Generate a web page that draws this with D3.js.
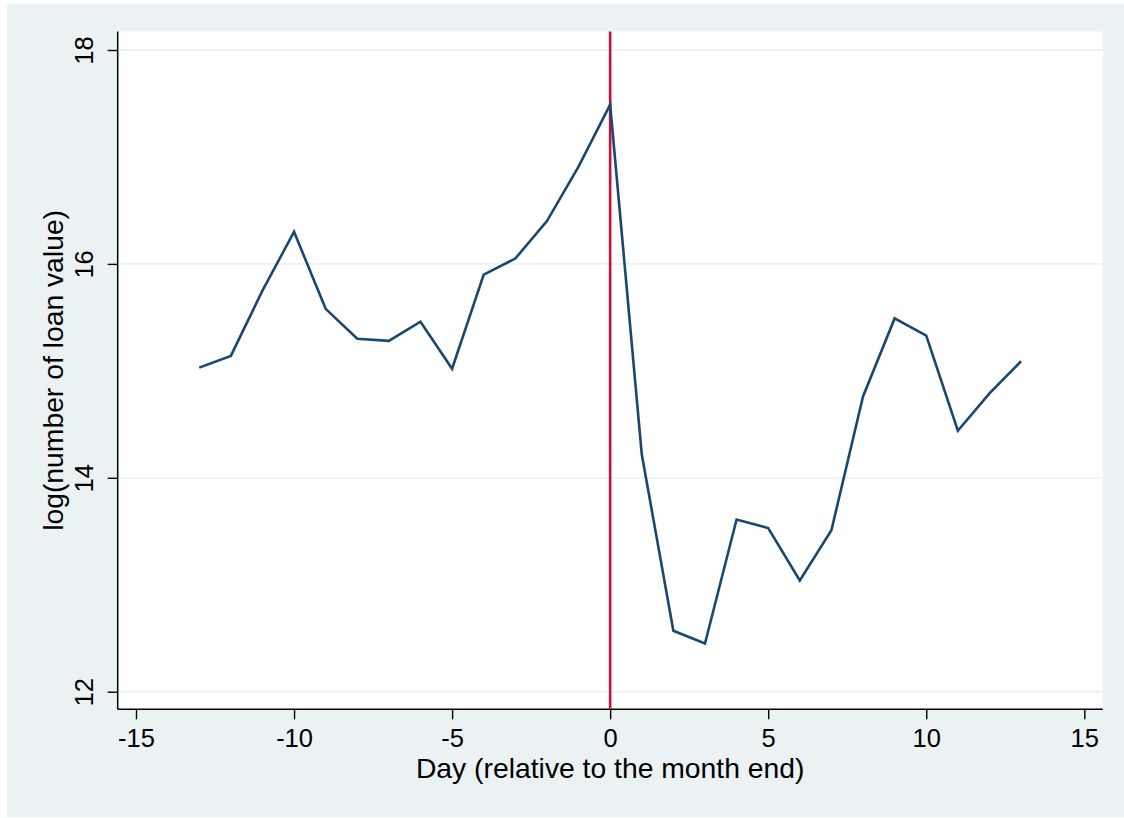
<!DOCTYPE html>
<html>
<head>
<meta charset="utf-8">
<script src="https://cdn.jsdelivr.net/npm/d3@7"></script>
<style>
    body { margin: 0; background: #fff; }
    svg { display: block; font-family: 'Liberation Sans', Arial, sans-serif; }
</style>
</head>
<body>
<svg width="1124" height="818"></svg>
<script>
// data
var days = [-13, -12, -11, -10, -9, -8, -7, -6, -5, -4, -3, -2, -1, 0,
    1, 2, 3, 4, 5, 6, 7, 8, 9, 10, 11, 12, 13];
var logValue = [15.03, 15.14, 15.75, 16.30, 15.58, 15.30, 15.28, 15.46, 15.02, 15.90, 16.05, 16.40, 16.91, 17.49,
    14.22, 12.57, 12.45, 13.61, 13.53, 13.04, 13.51, 14.76, 15.49, 15.33, 14.44, 14.79, 15.09];
var xTicks = [-15, -10, -5, 0, 5, 10, 15];
var yTicks = [12, 14, 16, 18];
var markerDay = 0;

var svg = d3.select('svg');

var svgWidth = +svg.attr('width');
var svgHeight = +svg.attr('height');

// plot region edges
var region = {l: 117.7, r: 1102.7, t: 31.5, b: 709.3};

// plain labels with ascii hyphen, no decimals
var plainFormat = function(d) { return String(d); };

// outer (graph) background
svg.append('rect')
    .attr('x', 7)
    .attr('y', 4)
    .attr('width', svgWidth - 7)
    .attr('height', svgHeight - 5)
    .attr('fill', '#eaf2f3');

// plot region
svg.append('rect')
    .attr('x', region.l)
    .attr('y', region.t)
    .attr('width', region.r - region.l)
    .attr('height', region.b - region.t)
    .attr('fill', '#ffffff');

// scales
var xScale = d3.scaleLinear()
    .domain([-15, 15])
    .range([136, 1084.3]);
var yScale = d3.scaleLinear()
    .domain([12, 18])
    .range([691.7, 50]);

// horizontal grid lines
svg.append('g')
    .attr('class', 'grid')
    .selectAll('line')
    .data(yTicks)
    .enter()
    .append('line')
    .attr('x1', region.l)
    .attr('x2', region.r)
    .attr('y1', function(d) { return yScale(d); })
    .attr('y2', function(d) { return yScale(d); })
    .attr('stroke', '#eaf2f3')
    .attr('stroke-width', 1.8);

// x axis
var xAxisG = svg.append('g')
    .attr('class', 'x axis')
    .attr('transform', 'translate(' + [0, region.b] + ')')
    .call(d3.axisBottom(xScale).tickValues(xTicks).tickFormat(plainFormat)
        .tickSize(10).tickSizeOuter(0));

xAxisG.select('.domain').remove();
xAxisG.selectAll('line').attr('stroke', '#000').attr('stroke-width', 1.4);
xAxisG.selectAll('text')
    .attr('y', 38)
    .attr('dy', 0)
    .attr('fill', '#000')
    .style('font-size', '25.5px');

// y axis
var yAxisG = svg.append('g')
    .attr('class', 'y axis')
    .attr('transform', 'translate(' + [region.l, 0] + ')')
    .call(d3.axisLeft(yScale).tickValues(yTicks).tickFormat(plainFormat)
        .tickSize(10).tickSizeOuter(0));

yAxisG.select('.domain').remove();
yAxisG.selectAll('line').attr('stroke', '#000').attr('stroke-width', 1.4);
yAxisG.selectAll('text')
    .attr('x', 0)
    .attr('dy', 0)
    .attr('text-anchor', 'middle')
    .attr('transform', 'translate(-25,0) rotate(-90)')
    .attr('fill', '#000')
    .style('font-size', '25.5px');

// axis lines
svg.append('line')
    .attr('x1', region.l).attr('x2', region.r)
    .attr('y1', region.b).attr('y2', region.b)
    .attr('stroke', '#000').attr('stroke-width', 1.5);
svg.append('line')
    .attr('x1', region.l).attr('x2', region.l)
    .attr('y1', region.t).attr('y2', region.b)
    .attr('stroke', '#000').attr('stroke-width', 1.5);

// vertical marker at month end
svg.append('line')
    .attr('x1', xScale(markerDay))
    .attr('x2', xScale(markerDay))
    .attr('y1', region.t)
    .attr('y2', region.b)
    .attr('stroke', '#c8113c')
    .attr('stroke-width', 2.6);

// series line
var line = d3.line()
    .x(function(d, i) { return xScale(days[i]); })
    .y(function(d) { return yScale(d); });

svg.append('path')
    .datum(logValue)
    .attr('d', line)
    .attr('fill', 'none')
    .attr('stroke', '#1a476f')
    .attr('stroke-width', 2.6)
    .attr('stroke-linejoin', 'miter');

// axis titles
svg.append('text')
    .attr('x', (region.l + region.r) / 2)
    .attr('y', 778)
    .attr('text-anchor', 'middle')
    .style('font-size', '28.3px')
    .text('Day (relative to the month end)');

svg.append('text')
    .attr('transform', 'translate(' + [63, (region.t + region.b) / 2] + ') rotate(-90)')
    .attr('text-anchor', 'middle')
    .style('font-size', '28.3px')
    .text('log(number of loan value)');
</script>
</body>
</html>
